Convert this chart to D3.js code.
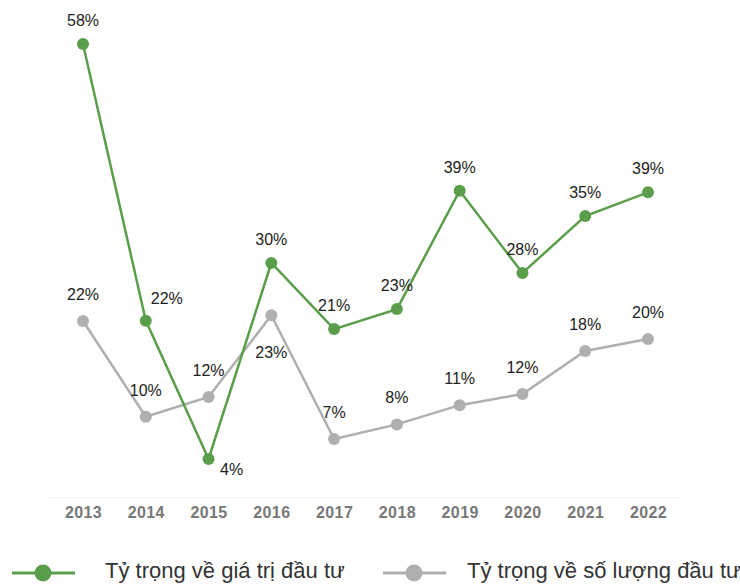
<!DOCTYPE html>
<html>
<head>
<meta charset="utf-8">
<script src="https://cdn.jsdelivr.net/npm/d3@7"></script>
<style>
  body { margin: 0; background: #fff; }
  svg { font-family: "Liberation Sans", Arial, sans-serif; }
</style>
</head>
<body>
<div id="chart"></div>
<script>
const years = ['2013', '2014', '2015', '2016', '2017', '2018', '2019', '2020', '2021', '2022'];
const valueShare = [58, 22, 4, 29.5, 20.9, 23.5, 38.9, 28.2, 35.6, 38.7];
const valueLabels = ['58%', '22%', '4%', '30%', '21%', '23%', '39%', '28%', '35%', '39%'];
const countShare = [21.95, 9.5, 12.06, 22.7, 6.6, 8.5, 11.0, 12.45, 18.05, 19.6];
const countLabels = ['22%', '10%', '12%', '23%', '7%', '8%', '11%', '12%', '18%', '20%'];
// where each label sits relative to its point
const valuePlace = ['above', 'right', 'below-right', 'above', 'above', 'above', 'above', 'above', 'above', 'above'];
const countPlace = ['above', 'above', 'above', 'below', 'above', 'above', 'above', 'above', 'above', 'above'];
const seriesNames = ['Tỷ trọng về giá trị đầu tư', 'Tỷ trọng về số lượng đầu tư'];

const width = 740;
const height = 584;
const green = '#5a9e4b';
const grey = '#b0afaf';

const svg = d3.select('#chart')
  .append('svg')
  .attr('width', width)
  .attr('height', height);

const x = d3.scalePoint()
  .domain(years)
  .range([83, 648]);

const y = d3.scaleLinear()
  .domain([-1, 60])
  .range([497.4, 28.6]);

// baseline
svg.append('line')
  .attr('x1', 48).attr('x2', 682)
  .attr('y1', y(-1)).attr('y2', y(-1))
  .attr('stroke', '#f0f0f0')
  .attr('stroke-width', 1);

svg.append('g')
  .attr('transform', `translate(0,${y(-1)})`)
  .call(d3.axisBottom(x).tickSize(0).tickPadding(9))
  .call(g => g.select('.domain').remove())
  .selectAll('text')
    .attr('font-size', '16px')
    .attr('font-weight', 'bold')
    .attr('letter-spacing', '0.4px')
    .attr('fill', '#787878')
    .attr('font-family', '"Liberation Sans", Arial, sans-serif');

const line = d3.line()
  .x((d, i) => x(years[i]))
  .y(d => y(d));

function drawSeries(values, labels, places, color) {
  svg.append('path')
    .datum(values)
    .attr('fill', 'none')
    .attr('stroke', color)
    .attr('stroke-width', 2.5)
    .attr('d', line);

  svg.append('g')
    .selectAll('circle')
    .data(values)
    .join('circle')
      .attr('cx', (d, i) => x(years[i]))
      .attr('cy', d => y(d))
      .attr('r', 6)
      .attr('fill', color);

  svg.append('g')
    .selectAll('text')
    .data(values)
    .join('text')
      .attr('x', (d, i) => {
        const p = places[i];
        if (p === 'right') return x(years[i]) + 21;
        if (p === 'below-right') return x(years[i]) + 23;
        return x(years[i]);
      })
      .attr('y', (d, i) => {
        const p = places[i];
        if (p === 'below') return y(d) + 43;
        if (p === 'below-right') return y(d) + 16;
        if (p === 'right') return y(d) - 17;
        return y(d) - (color === grey ? 21 : 18);
      })
      .attr('text-anchor', 'middle')
      .attr('font-size', '16px')
      .attr('fill', '#222')
      .text((d, i) => labels[i]);
}

drawSeries(countShare, countLabels, countPlace, grey);
drawSeries(valueShare, valueLabels, valuePlace, green);

// legend
const legend = svg.append('g').attr('transform', 'translate(0,573)');
const legendItems = [
  { name: seriesNames[0], color: green, x0: 12, tx: 105 },
  { name: seriesNames[1], color: grey, x0: 383, tx: 467 }
];
legendItems.forEach(it => {
  legend.append('line')
    .attr('x1', it.x0).attr('x2', it.x0 + 63)
    .attr('stroke', it.color)
    .attr('stroke-width', 3);
  legend.append('circle')
    .attr('cx', it.x0 + 31)
    .attr('r', 8.5)
    .attr('fill', it.color);
  legend.append('text')
    .attr('x', it.tx)
    .attr('y', 5)
    .attr('font-size', '22px')
    .attr('fill', '#333')
    .text(it.name);
});
</script>
</body>
</html>
